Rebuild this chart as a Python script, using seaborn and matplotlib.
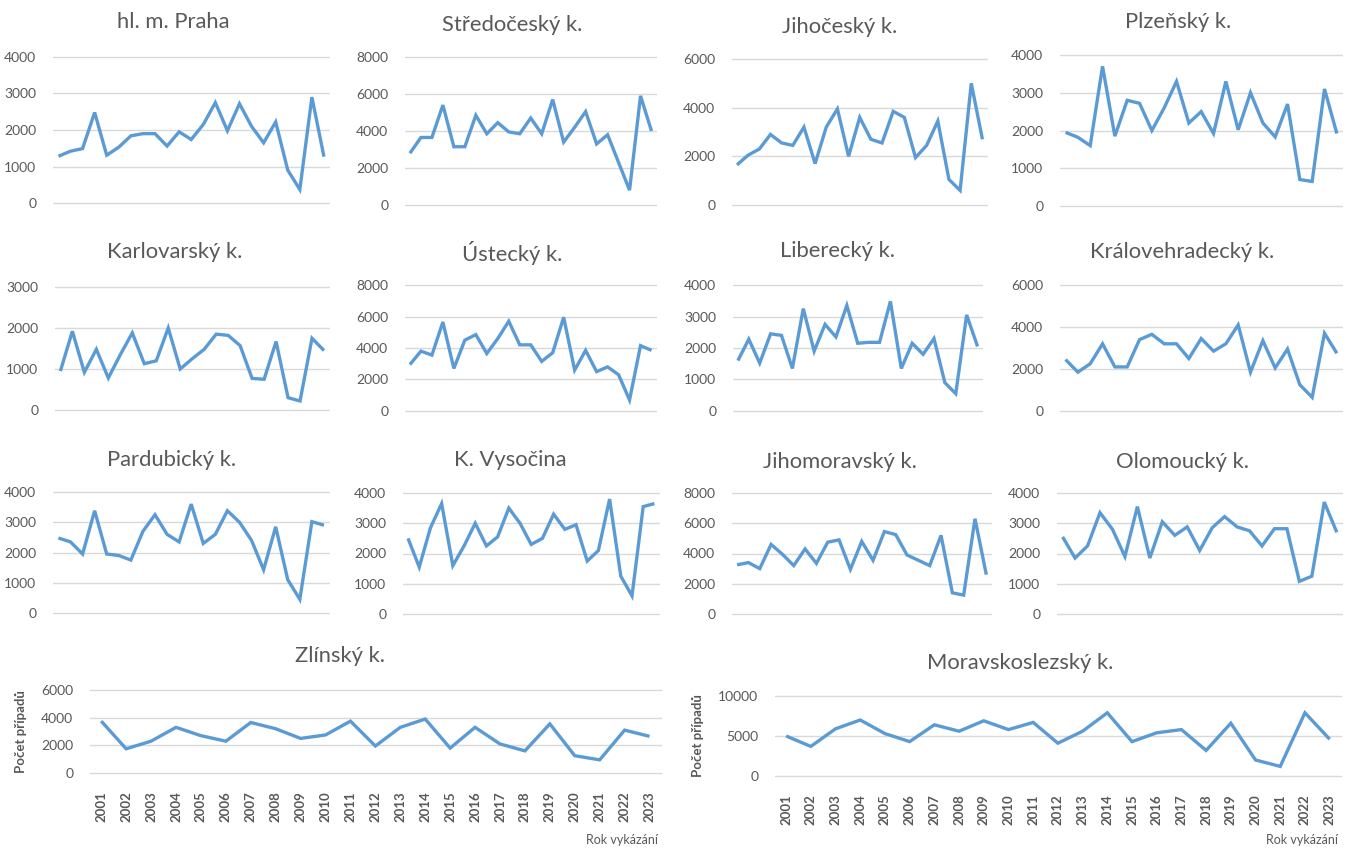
import matplotlib
matplotlib.use("Agg")
import matplotlib.pyplot as plt
import seaborn as sns
import pandas as pd

# Number of reported cases per region, 2001-2023
years = list(range(2001, 2024))

praha = [1280, 1420, 1490, 2480, 1310, 1530, 1840, 1900, 1900, 1560, 1950, 1740,
         2150, 2750, 1980, 2720, 2100, 1650, 2220, 900, 370, 2900, 1270]
stredocesky = [2800, 3650, 3650, 5400, 3150, 3150, 4850, 3850, 4450, 3950, 3850, 4700,
               3850, 5700, 3400, 4200, 5050, 3300, 3800, 2300, 800, 5900, 4000]
jihocesky = [1650, 2050, 2300, 2900, 2550, 2450, 3200, 1700, 3200, 3950, 2000, 3600,
             2700, 2550, 3850, 3600, 1950, 2450, 3450, 1050, 600, 5000, 2700]
plzensky = [1950, 1820, 1600, 3700, 1850, 2800, 2720, 2000, 2600, 3300, 2200, 2500,
            1920, 3300, 2020, 3000, 2200, 1830, 2700, 700, 650, 3100, 1920]
karlovarsky = [950, 1920, 920, 1480, 780, 1350, 1880, 1130, 1200, 2000, 1000, 1250,
               1480, 1850, 1820, 1570, 770, 750, 1670, 300, 220, 1750, 1450]
ustecky = [2950, 3800, 3550, 5650, 2700, 4500, 4850, 3650, 4600, 5700, 4200, 4200,
           3150, 3700, 5950, 2600, 3850, 2500, 2800, 2300, 700, 4150, 3850]
liberecky = [1600, 2280, 1520, 2450, 2400, 1350, 3250, 1900, 2750, 2350, 3350, 2150,
             2180, 2180, 3480, 1350, 2150, 1800, 2300, 900, 550, 3050, 2050]
kralovehradecky = [2450, 1850, 2250, 3200, 2100, 2100, 3400, 3650, 3200, 3200, 2500, 3450,
                   2850, 3200, 4100, 1850, 3350, 2050, 2950, 1250, 650, 3700, 2750]
pardubicky = [2480, 2350, 1950, 3380, 1950, 1900, 1750, 2700, 3250, 2600, 2350, 3600,
              2300, 2600, 3380, 3000, 2400, 1430, 2850, 1100, 450, 3020, 2900]
vysocina = [2500, 1550, 2850, 3650, 1600, 2250, 3000, 2250, 2550, 3500, 3000, 2300,
            2500, 3300, 2800, 2950, 1750, 2100, 3800, 1250, 600, 3550, 3650]
jihomoravsky = [3250, 3400, 3000, 4600, 3950, 3200, 4300, 3350, 4750, 4900, 2950, 4800,
                3550, 5450, 5250, 3900, 3550, 3200, 5200, 1400, 1250, 6300, 2600]
olomoucky = [2550, 1850, 2250, 3350, 2800, 1900, 3550, 1850, 3050, 2600, 2880, 2100,
             2850, 3220, 2880, 2750, 2250, 2820, 2820, 1080, 1250, 3700, 2700]
zlinsky = [3750, 1750, 2300, 3300, 2700, 2300, 3650, 3200, 2500, 2750, 3750, 1950,
           3300, 3900, 1800, 3300, 2100, 1600, 3550, 1250, 950, 3100, 2650]
moravskoslezsky = [5000, 3700, 5900, 7000, 5300, 4300, 6400, 5600, 6900, 5800, 6700, 4100,
                   5600, 7900, 4300, 5400, 5800, 3200, 6600, 2000, 1200, 7900, 4600]

region_names = ["hl. m. Praha", "Středočeský k.", "Jihočeský k.", "Plzeňský k.",
                "Karlovarský k.", "Ústecký k.", "Liberecký k.", "Královehradecký k.",
                "Pardubický k.", "K. Vysočina", "Jihomoravský k.", "Olomoucký k.",
                "Zlínský k.", "Moravskoslezský k."]
region_values = [praha, stredocesky, jihocesky, plzensky,
                 karlovarsky, ustecky, liberecky, kralovehradecky,
                 pardubicky, vysocina, jihomoravsky, olomoucky,
                 zlinsky, moravskoslezsky]
y_max = [4000, 8000, 6000, 4000, 3000, 8000, 4000, 6000, 4000, 4000, 8000, 4000, 6000, 10000]
y_step = [1000, 2000, 2000, 1000, 1000, 2000, 1000, 2000, 1000, 1000, 2000, 1000, 2000, 5000]

y_label = "Počet případů"
x_label = "Rok vykázání"

# Panel frames in pixels: left, right, top gridline y, zero gridline y, title x, title y
W, H, DPI = 1354, 848, 100
frames = [
    (53, 330, 57, 203, 173, 22),
    (405, 657, 57, 205, 512, 25),
    (732, 988, 59, 205, 840, 27),
    (1060, 1343, 55, 206, 1178, 22),
    (55, 330, 287, 410, 175, 252),
    (405, 657, 285, 411, 512, 253),
    (733, 983, 285, 411, 838, 251),
    (1060, 1343, 285, 411, 1182, 252),
    (53, 330, 492, 613, 172, 460),
    (403, 660, 493, 614, 510, 460),
    (732, 992, 493, 614, 840, 462),
    (1057, 1343, 493, 614, 1182, 462),
    (90, 662, 690, 773, 340, 656),
    (775, 1342, 696, 776, 1020, 663),
]

LINE = "#5B9BD5"
GRID = "#D9D9D9"
TEXT = "#595959"

sns.set_theme(style="white")
plt.rcParams["font.family"] = ["Lato", "DejaVu Sans"]

fig = plt.figure(figsize=(W / DPI, H / DPI), dpi=DPI)
fig.patch.set_facecolor("white")

for i, (name, vals) in enumerate(zip(region_names, region_values)):
    left, right, ytop, yzero, tx, ty = frames[i]
    pad = 4
    ax = fig.add_axes([left / W, 1 - (yzero + pad) / H,
                       (right - left) / W, (yzero - ytop + 2 * pad) / H])
    dpp = y_max[i] / (yzero - ytop)
    df = pd.DataFrame({"rok": years, "pocet": vals})
    sns.lineplot(data=df, x="rok", y="pocet", ax=ax, color=LINE, linewidth=2.4,
                 solid_joinstyle="miter", solid_capstyle="butt")
    ax.set_ylim(-pad * dpp, y_max[i] + pad * dpp)
    ax.set_xlim(years[0] - 0.45, years[-1] + 0.5)
    ax.set_yticks(range(0, y_max[i] + 1, y_step[i]))
    ax.yaxis.grid(True, color=GRID, linewidth=1.0)
    ax.set_axisbelow(True)
    for s in ax.spines.values():
        s.set_visible(False)
    ax.tick_params(axis="y", length=0, pad=12, labelsize=10, labelcolor=TEXT)
    ax.set_facecolor("none")
    ax.set_ylabel("")
    ax.set_xlabel("")
    if i < 12:
        ax.set_xticks([])
    else:
        ax.set_xticks(years)
        ax.set_xticklabels([str(y) for y in years], rotation=90,
                           fontsize=9.5, fontweight="bold", color=TEXT)
        ax.tick_params(axis="x", length=0, pad=10)
        ax.set_ylabel(y_label, fontsize=9.5, fontweight="bold", color=TEXT, labelpad=10)
        fig.text((right - 40) / W, 1 - 840 / H, x_label, ha="center", va="center",
                 fontsize=9, color=TEXT)
    fig.text(tx / W, 1 - ty / H, name, ha="center", va="center",
             fontsize=15.8, color=TEXT)

fig.savefig("out.png", dpi=DPI, facecolor="white")
